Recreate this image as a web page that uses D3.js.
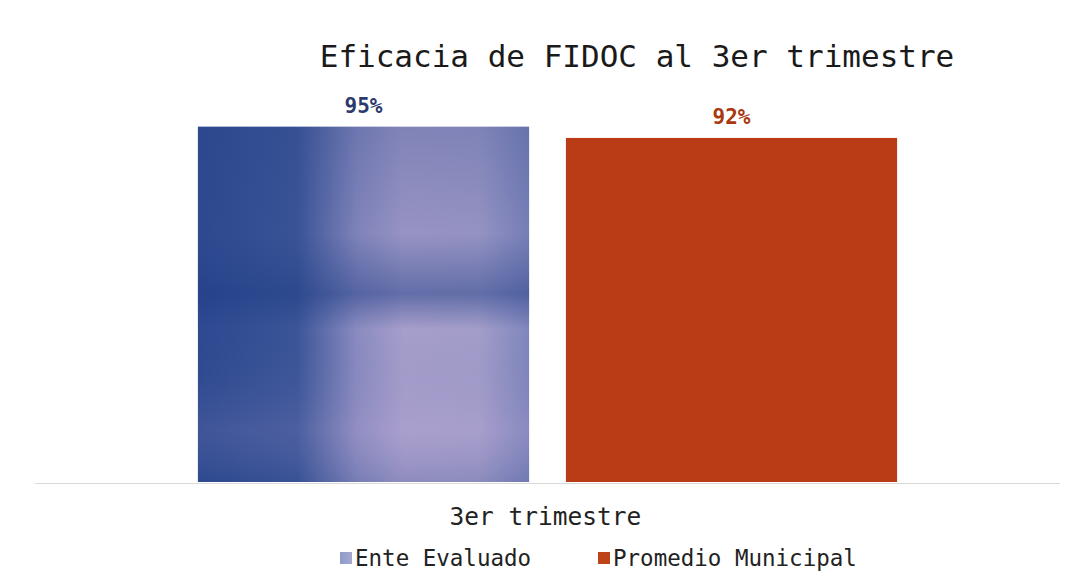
<!DOCTYPE html>
<html><head><meta charset="utf-8">
<script src="https://cdn.jsdelivr.net/npm/d3@7"></script>
<style>html,body{margin:0;padding:0;background:#fff;}svg{display:block;}</style>
</head><body>
<script>
const title = "Eficacia de FIDOC al 3er trimestre";
const categories = ["3er trimestre"];
const seriesNames = ["Ente Evaluado", "Promedio Municipal"];
const enteValues = [95];
const promedioValues = [92];
const labelColors = ["#2b3a6e", "#a8380f"];

const W = 1076, H = 582;
const plot = {left: 35, right: 1060, top: 108, bottom: 482};
const font = "'DejaVu Sans Mono', 'Liberation Mono', monospace";

const svg = d3.select("body").append("svg").attr("width", W).attr("height", H);
svg.append("rect").attr("width", W).attr("height", H).attr("fill", "#fff");

const defs = svg.append("defs");
const gH = defs.append("linearGradient").attr("id", "blueH").attr("x1", 0).attr("x2", 1).attr("y1", 0).attr("y2", 0);
[[0, "#2d4990"], [0.3, "#3b5598"], [0.48, "#8a8bc0"], [0.62, "#a69ecb"], [0.85, "#a39dca"], [1, "#8086bd"]]
  .forEach(([o, c]) => gH.append("stop").attr("offset", o).attr("stop-color", c));
const gV = defs.append("linearGradient").attr("id", "blueV").attr("x1", 0).attr("x2", 0).attr("y1", 0).attr("y2", 1);
[[0, "#2a4589", 0.3], [0.3, "#2a4589", 0.12], [0.47, "#1f3d85", 0.5], [0.57, "#1f3d85", 0.0], [0.85, "#c8a8d8", 0.12], [1, "#2a4589", 0.2]]
  .forEach(([o, c, a]) => gV.append("stop").attr("offset", o).attr("stop-color", c).attr("stop-opacity", a));
const legBlue = defs.append("linearGradient").attr("id", "legBlue");
legBlue.append("stop").attr("offset", 0).attr("stop-color", "#8e9ccb");
legBlue.append("stop").attr("offset", 1).attr("stop-color", "#a5a8d0");

const seriesData = [enteValues, promedioValues];
const fills = ["url(#blueH)", "#b93c16"];

const x0 = d3.scaleBand().domain(categories).range([plot.left, plot.right]).paddingOuter(0.233).paddingInner(0);
const x1 = d3.scaleBand().domain(seriesNames).range([0, x0.bandwidth()]).paddingInner(0.1).paddingOuter(0);
const y = d3.scaleLinear().domain([0, 100]).range([plot.bottom, plot.top]);

// baseline
svg.append("line").attr("x1", plot.left).attr("x2", plot.right)
  .attr("y1", plot.bottom + 1.5).attr("y2", plot.bottom + 1.5)
  .attr("stroke", "#d9d9d9").attr("stroke-width", 1);

categories.forEach((cat, ci) => {
  seriesNames.forEach((s, si) => {
    const v = seriesData[si][ci];
    const bx = x0(cat) + x1(s);
    svg.append("rect").attr("x", bx).attr("y", y(v)).attr("width", x1.bandwidth()).attr("height", y(0) - y(v))
      .attr("fill", fills[si]);
    if (si === 0) {
      svg.append("rect").attr("x", bx).attr("y", y(v)).attr("width", x1.bandwidth()).attr("height", y(0) - y(v))
        .attr("fill", "url(#blueV)");
    }
    svg.append("text").attr("x", bx + x1.bandwidth() / 2).attr("y", y(v) - 14)
      .attr("text-anchor", "middle").attr("font-family", font).attr("font-size", 21).attr("font-weight", "bold")
      .attr("fill", labelColors[si]).text(v + "%");
  });
  svg.append("text").attr("x", x0(cat) + x0.bandwidth() / 2 - 2).attr("y", 525)
    .attr("text-anchor", "middle").attr("font-family", font).attr("font-size", 24.5)
    .attr("fill", "#222").text(cat);
});

// title
svg.append("text").attr("x", 637).attr("y", 67).attr("text-anchor", "middle")
  .attr("font-family", font).attr("font-size", 31).attr("fill", "#1a1a1a").text(title);

// legend
const legend = [{name: seriesNames[0], x: 340, fill: "url(#legBlue)"}, {name: seriesNames[1], x: 598, fill: "#bd4418"}];
legend.forEach(l => {
  svg.append("rect").attr("x", l.x).attr("y", 552).attr("width", 12).attr("height", 12).attr("fill", l.fill);
  svg.append("text").attr("x", l.x + 15).attr("y", 566).attr("font-family", font).attr("font-size", 22.5)
    .attr("fill", "#222").text(l.name);
});
</script>
</body></html>
